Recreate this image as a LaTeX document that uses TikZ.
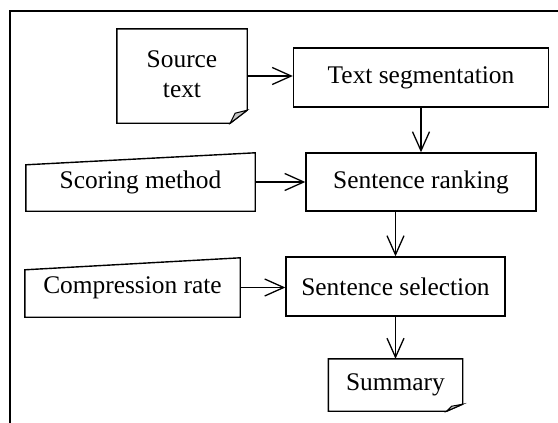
\documentclass[tikz,border=0pt]{standalone}
\usepackage{fontspec}
\setmainfont{Liberation Serif}
\usetikzlibrary{arrows.meta}
\tikzset{
  lbl/.style={inner sep=0pt, font=\fontsize{25.4}{30}\selectfont, align=center},
  procbox/.style={lbl, draw, line width=1.4pt},
  outline/.style={draw, line width=1.4pt},
  flow/.style={line width=1.3pt, -{Straight Barb[length=19pt,width=17pt,line width=1.3pt]}},
}
\begin{document}
\begin{tikzpicture}[x=1pt,y=-1pt]
\useasboundingbox (0,0) rectangle (558,423);
\draw[line width=1.5pt] (10,423) -- (10,11) -- (558,11);

% nodes
\node[lbl, minimum width=130pt, minimum height=94pt] (src) at (182,76) {\raisebox{3pt}{Source}\\\raisebox{3pt}{text}};
\node[procbox, minimum width=255pt, minimum height=59pt] (seg) at (421,77.5) {Text segmentation};
\node[procbox, minimum width=230pt, minimum height=58pt] (rank) at (421,182) {Sentence ranking};
\node[lbl, minimum width=229pt, minimum height=58pt] (score) at (140.5,182) {\raisebox{-4pt}{Scoring method}};
\node[procbox, minimum width=219pt, minimum height=59pt] (sel) at (395.5,286.5) {Sentence selection};
\node[lbl, minimum width=215pt, minimum height=59pt] (comp) at (132.5,287.5) {\raisebox{-4pt}{Compression rate}};
\node[lbl, minimum width=134pt, minimum height=52pt] (sum) at (395.5,385) {Summary};

% document shapes
\draw[outline] (src.north west) -- (src.north east) -- ([yshift=13pt]src.south east)
  -- ([xshift=-17pt]src.south east) -- (src.south west) -- cycle;
\filldraw[fill=gray!45, line width=1pt] ([xshift=-17pt]src.south east) -- ([yshift=13pt]src.south east)
  -- ([xshift=-12pt,yshift=10pt]src.south east) -- cycle;
\draw[outline] (sum.north west) -- (sum.north east) -- ([yshift=7pt]sum.south east)
  -- ([xshift=-16pt]sum.south east) -- (sum.south west) -- cycle;
\filldraw[fill=gray!45, line width=1pt] ([xshift=-16pt]sum.south east) -- ([yshift=7pt]sum.south east)
  -- ([xshift=-11pt,yshift=5pt]sum.south east) -- cycle;

% manual input shapes
\draw[outline] (score.south west) -- (score.south east) -- (score.north east)
  -- ([yshift=-12pt]score.north west) -- cycle;
\draw[outline] (comp.south west) -- (comp.south east) -- (comp.north east)
  -- ([yshift=-12pt]comp.north west) -- cycle;

% connectors
\draw[flow] (src.east) -- (src.east -| seg.west);
\draw[flow] (seg.south) -- (rank.north);
\draw[flow] (score.east) -- (rank.west);
\draw[flow] (sel.north |- rank.south) -- (sel.north);
\draw[flow] (comp.east) -- (comp.east -| sel.west);
\draw[flow] (sel.south) -- (sum.north);
\end{tikzpicture}
\end{document}
